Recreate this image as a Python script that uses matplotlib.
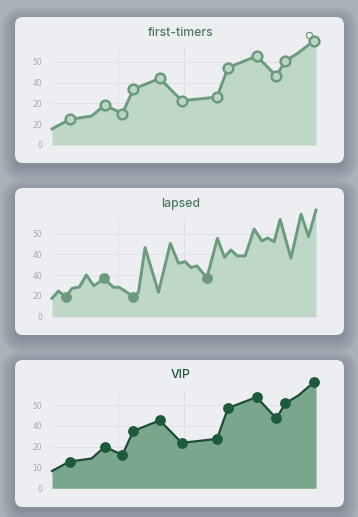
import matplotlib.pyplot as plt
from matplotlib.patches import FancyBboxPatch
import numpy as np

W, H = 358, 517

# ---- data (x = day of period, y = value) ----
first_x = [0, 8, 18, 24, 32, 37, 49, 59, 75, 80, 93, 102, 106, 112, 119]
first_y = [9.6, 15.4, 17.4, 24.0, 18.9, 33.6, 40.0, 26.6, 28.8, 46.5, 53.4, 41.5, 50.4, 55.4, 62.6]
first_markers = [1, 3, 4, 5, 6, 7, 8, 9, 10, 11, 12, 14]
first_stray = (117, 66.1)
first_ticklabels = ["0", "20", "20", "40", "50"]

lapsed_x = [0, 2.9, 6.2, 9.2, 12.4, 15.6, 19.0, 21.1, 23.5, 27.9, 30.5, 34.0, 37.0, 39.3,
            42.3, 48.4, 53.8, 57.5, 60.5, 63.2, 65.8, 70.4, 75.2, 78.4, 81.3, 84.3, 87.8,
            91.9, 95.4, 97.9, 101.0, 103.7, 108.6, 113.2, 116.6, 120]
lapsed_y = [11.1, 15.4, 12.0, 17.1, 17.8, 25.1, 18.6, 20.4, 23.1, 17.7, 17.7, 14.7, 12.0, 14.7,
            41.5, 14.7, 44.1, 32.1, 33.1, 29.5, 30.6, 23.4, 47.1, 35.7, 40.1, 36.5, 36.5,
            52.7, 45.5, 47.3, 45.1, 58.5, 35.1, 61.7, 48.1, 64.1]
lapsed_markers = [2, 8, 12, 21]
lapsed_ticklabels = ["0", "20", "40", "40", "50"]

vip_x = [0, 8, 18, 24, 32, 37, 49, 59, 75, 80, 93, 102, 106, 112, 119]
vip_y = [10.4, 16.1, 17.9, 24.9, 20.1, 34.5, 40.8, 27.3, 29.7, 48.2, 54.8, 42.0, 51.0, 55.8, 63.7]
vip_markers = [1, 3, 4, 5, 6, 7, 8, 9, 10, 11, 12, 14]
vip_ticklabels = ["0", "10", "20", "40", "50"]

yticks = [0, 12.5, 25, 37.5, 50]

bg = "#a9b1bb"
card = "#eceef2"
grid_c = "#dde0e5"
tick_c = "#a4a8ae"

fig = plt.figure(figsize=(W / 100, H / 100), dpi=100, facecolor=bg)

# background layer in pixel coordinates for the cards
bgax = fig.add_axes([0, 0, 1, 1])
bgax.set_xlim(0, W)
bgax.set_ylim(H, 0)
bgax.axis("off")

cards = [(15, 17, 329, 146), (15, 188, 329, 147), (15, 360, 329, 147)]
for (cx, cy, cw, ch) in cards:
    # soft shadow
    for i in range(10):
        g = 1.5 * (i + 1)
        bgax.add_patch(FancyBboxPatch((cx - g + 1, cy - g + 5), cw + 2 * g - 2, ch + 2 * g - 2,
                                      boxstyle="round,pad=0,rounding_size=%f" % (8 + g),
                                      fc="#505864", ec="none", alpha=0.04))
    bgax.add_patch(FancyBboxPatch((cx, cy), cw, ch, boxstyle="round,pad=0,rounding_size=8",
                                  fc=card, ec="none"))


def panel(top, base, title, title_y, tcolor, xs, ys, mk, labels, fill_c, line_c,
          lw, mface, medge, ms, mew):
    ax = fig.add_axes([52 / W, 1 - base / H, 264 / W, (base - top) / H])
    ax.set_facecolor("none")
    ymax = (base - top) / 20.8 * 12.5
    ax.set_xlim(0, 120)
    ax.set_ylim(0, ymax)
    for s in ax.spines.values():
        s.set_visible(False)
    ax.set_yticks(yticks)
    ax.set_yticklabels(labels)
    ax.set_xticks([30, 60, 90])
    ax.set_xticklabels([])
    ax.tick_params(length=0, labelsize=5.5, labelcolor=tick_c, pad=7)
    ax.grid(True, color=grid_c, lw=0.7)
    ax.set_axisbelow(True)
    xs = np.array(xs)
    ys = np.array(ys)
    xf = np.append(xs, 120)
    yf = np.append(ys, ys[-1])
    ax.fill_between(xf, 0, yf, color=fill_c, lw=0, clip_on=False, zorder=2)
    ax.plot(xs, ys, color=line_c, lw=lw, solid_joinstyle="round", clip_on=False, zorder=3)
    ax.plot(xs[mk], ys[mk], "o", ms=ms, mfc=mface, mec=medge, mew=mew, clip_on=False, zorder=4)
    fig.text(181 / W, 1 - title_y / H, title, ha="center", va="center", fontsize=8.8,
             color=tcolor, family="Inter", weight="medium")
    return ax


ax1 = panel(48, 145, "first-timers", 33, "#4d7a5f", first_x, first_y, first_markers,
            first_ticklabels, "#bfd7c7", "#6b9b7c", 2.1, "#bcd5c4", "#6b9b7c", 7.0, 1.8)
ax1.plot([first_stray[0]], [first_stray[1]], "o", ms=4.5, mfc="none", mec="#6b9b7c", mew=0.9,
         clip_on=False, zorder=5)

panel(220, 316.7, "lapsed", 204, "#4d7a5f", lapsed_x, lapsed_y, lapsed_markers,
      lapsed_ticklabels, "#bfd7c7", "#6b9b7c", 2.1, "#6b9b7c", "#6b9b7c", 7.8, 0)

panel(391.7, 488.3, "VIP", 375.5, "#1f553a", vip_x, vip_y, vip_markers,
      vip_ticklabels, "#7ba68e", "#1d4a33", 1.6, "#1d5a3b", "#1d5a3b", 7.8, 0)

fig.savefig("out.png", dpi=100, facecolor=bg)
